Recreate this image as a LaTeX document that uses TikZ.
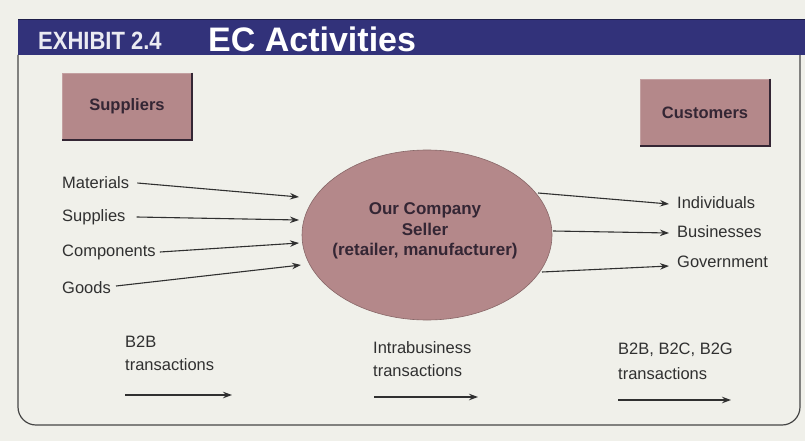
\documentclass[tikz,border=0pt]{standalone}
\usepackage{fontspec}
\setmainfont{Liberation Sans}
\usetikzlibrary{arrows.meta,shapes.geometric}
\definecolor{bg}{RGB}{240,240,234}
\definecolor{navy}{RGB}{50,50,122}
\definecolor{rose}{RGB}{180,136,138}
\definecolor{ink}{RGB}{48,48,48}
\definecolor{boxink}{RGB}{52,38,52}
\definecolor{framec}{RGB}{70,70,70}
\begin{document}
\begin{tikzpicture}[x=1pt,y=-1pt,
  lbl/.style={font=\fontsize{16.5}{19}\selectfont, text=ink, inner sep=0pt},
  boxtxt/.style={font=\bfseries\fontsize{16.5}{18}\selectfont, text=boxink},
  rbox/.style={rectangle, fill=rose, draw=rose!80!white, line width=0.6pt, minimum width=130pt, minimum height=67pt, inner sep=0pt},
  arr/.style={draw=ink, line width=1.1pt, -{Stealth[length=9pt,width=6.5pt]}}]
\fill[bg] (0,0) rectangle (805,441);
\useasboundingbox (0,0) rectangle (805,441);

% frame
\draw[framec, line width=1.2pt, rounded corners=18pt] (18,55) -- (18,425) -- (800,425) -- (800,55);

% banner
\fill[navy] (18,20) rectangle (805,55);
\draw[navy!60!black, line width=1pt] (18,20) -- (805,20);
\node[anchor=base west, inner sep=0pt, text=white!90!navy, font=\bfseries\fontsize{25}{27}\selectfont] (exh) at (38,50) {\scalebox{0.88}[1]{EXHIBIT 2.4}};
\node[anchor=base west, inner sep=0pt, text=white, font=\bfseries\fontsize{34}{36}\selectfont] (ttl) at (208,52) {EC Activities};

% boxes
\node[rbox, boxtxt] (sup) at (127,106.5) {Suppliers};
\draw[boxink, line width=2pt] (sup.north east) -- (sup.south east) -- (sup.south west);
\node[rbox, boxtxt] (cus) at (705,112.5) {Customers};
\draw[boxink, line width=2pt] (cus.north east) -- (cus.south east) -- (cus.south west);

% ellipse
\node[ellipse, fill=rose, draw=rose!75!black, line width=0.6pt, minimum width=250pt, minimum height=170pt, inner sep=0pt] (ell) at (427,235) {};
\node[align=center, text=boxink, font=\bfseries\fontsize{17}{20.5}\selectfont] (ellt) at (425,231) {Our Company\\Seller\\(retailer, manufacturer)};

% left labels
\node[lbl, anchor=west] (mat) at (62,183) {Materials};
\node[lbl, anchor=west] (spl) at (62,217) {Supplies};
\node[lbl, anchor=west] (cmp) at (62,252) {Components};
\node[lbl, anchor=west] (gds) at (62,288) {Goods};

\coordinate (tm) at (299,197);
\coordinate (ts) at (299,220);
\coordinate (tc) at (299,243);
\coordinate (tg) at (301,265);
\draw[arr] ([xshift=8pt]mat.east) -- (tm);
\draw[arr] ([xshift=11pt]spl.east) -- (ts);
\draw[arr] ([xshift=4pt]cmp.east) -- (tc);
\draw[arr] ([xshift=5pt,yshift=2pt]gds.east) -- (tg);

% right labels
\node[lbl, anchor=west] (ind) at (677,203) {Individuals};
\node[lbl, anchor=west] (bus) at (677,232) {Businesses};
\node[lbl, anchor=west] (gov) at (677,262) {Government};

\coordinate (si) at (538,193);
\coordinate (sb) at (553,231);
\coordinate (sg) at (542,272);
\draw[arr] (si) -- ([xshift=-8pt,yshift=-1pt]ind.west);
\draw[arr] (sb) -- ([xshift=-8pt,yshift=-1pt]bus.west);
\draw[arr] (sg) -- ([xshift=-8pt,yshift=-4pt]gov.west);

% bottom transaction labels
\node[lbl, anchor=west] (b1a) at (125,342) {B2B};
\node[lbl, anchor=west] (b1b) at (125,365) {transactions};
\node[lbl, anchor=west] (b2a) at (373,348) {Intrabusiness};
\node[lbl, anchor=west] (b2b) at (373,371) {transactions};
\node[lbl, anchor=west] (b3a) at (618,350) {B2B, B2C, B2G};
\node[lbl, anchor=west] (b3b) at (618,374) {transactions};

\coordinate (a1s) at (125,395);
\coordinate (a1e) at (232,395);
\coordinate (a2s) at (374,397);
\coordinate (a2e) at (478,397);
\coordinate (a3s) at (618,400);
\coordinate (a3e) at (731,400);
\draw[arr] (a1s) -- (a1e);
\draw[arr] (a2s) -- (a2e);
\draw[arr] (a3s) -- (a3e);
\end{tikzpicture}
\end{document}
